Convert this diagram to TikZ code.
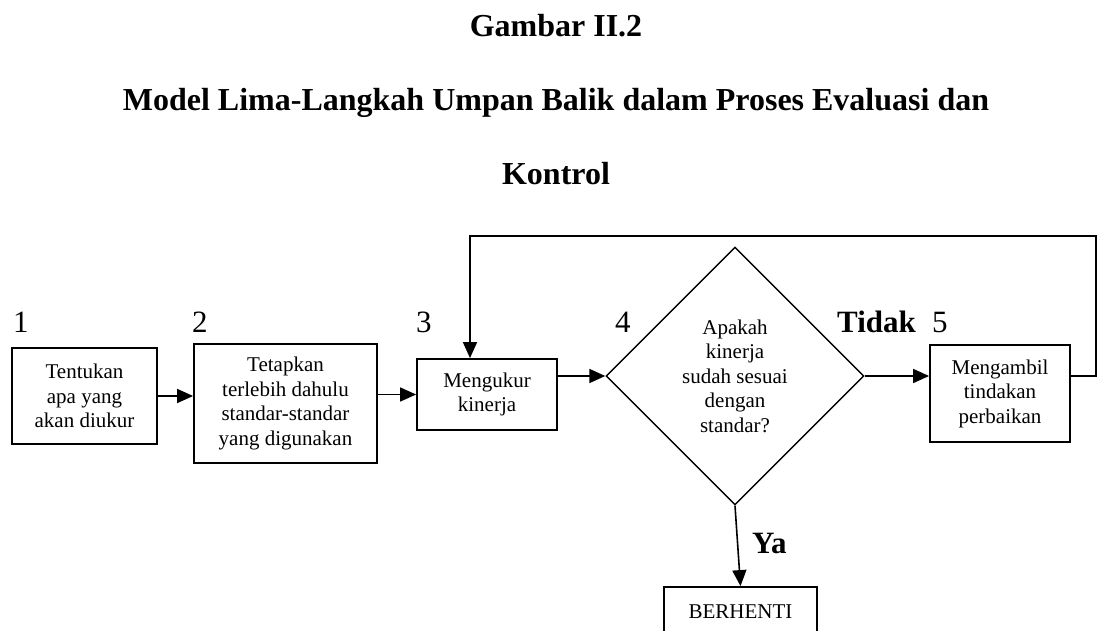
\documentclass[tikz,border=0pt]{standalone}
\usepackage{fontspec}
\setmainfont{Liberation Serif}
\usetikzlibrary{shapes.geometric, arrows.meta, positioning}
\tikzset{
  >={Triangle[length=16pt, width=14pt]},
  step box/.style={draw, line width=1.8pt, align=center, inner sep=0pt,
    font=\fontsize{21}{24.5}\selectfont},
  decision/.style={diamond, draw, line width=1.4pt, aspect=1, inner sep=0pt,
    minimum width=258pt, minimum height=258pt, align=center,
    font=\fontsize{21}{24.5}\selectfont},
  num/.style={anchor=base west, inner sep=0pt, font=\fontsize{31}{31}\selectfont},
  answer/.style={anchor=base west, inner sep=0pt, font=\fontsize{31}{31}\selectfont\bfseries},
  title/.style={anchor=base, inner sep=0pt, font=\fontsize{32}{32}\selectfont\bfseries},
  flow/.style={->, line width=1.6pt},
}

\begin{document}
\begin{tikzpicture}[x=1pt, y=-1pt]
    \useasboundingbox (0,0) rectangle (1097,631);
    \clip (0,0) rectangle (1097,631);

    % titles
    \node[title] (judul) at (556,37) {Gambar II.2};
    \node[title] (judul2) at (556,111) {Model Lima-Langkah Umpan Balik dalam Proses Evaluasi dan};
    \node[title] (judul3) at (556,185) {Kontrol};

    % steps
    \node[step box, minimum width=145pt, minimum height=96pt] (tentukan) at (84.5,396) {Tentukan\\apa yang\\akan diukur};
    \node[step box, minimum width=183pt, minimum height=119pt] (tetapkan) at (285.5,403.5) {Tetapkan\\terlebih dahulu\\standar-standar\\yang digunakan};
    \node[step box, minimum width=140pt, minimum height=71pt] (ukur) at (487,394.5) {Mengukur\\kinerja};
    \node[decision] (sesuai) at (735,376) {Apakah\\kinerja\\sudah sesuai\\dengan\\standar?};
    \node[step box, minimum width=140pt, minimum height=97pt] (perbaiki) at (1000,393.5) {Mengambil\\tindakan\\perbaikan};
    \node[step box, minimum width=153pt, minimum height=50pt] (berhenti) at (740.5,612) {BERHENTI};

    % step numbers and answers
    \node[num] (n1) at (13,332) {1};
    \node[num] (n2) at (192,332) {2};
    \node[num] (n3) at (416,332) {3};
    \node[num] (n4) at (615,332) {4};
    \node[num] (n5) at (932,332) {5};
    \node[answer] (tidak) at (837,332) {Tidak};
    \node[answer] (ya) at (752,553) {Ya};

    % connectors
    \coordinate (balik) at (1096,236);
    \draw[flow] (tentukan.east) -- (tentukan.east -| tetapkan.west);
    \draw[flow] (tetapkan.east |- ukur.west) -- (ukur.west);
    \draw[flow] (ukur.east |- sesuai.west) -- (sesuai.west);
    \draw[flow] (sesuai.east) -- (sesuai.east -| perbaiki.west);
    \draw[flow] (sesuai.south) -- (berhenti.north);
    \draw[flow] (perbaiki.east |- sesuai.east) -| (balik) -| ([xshift=-17pt]ukur.north);
\end{tikzpicture}
\end{document}
